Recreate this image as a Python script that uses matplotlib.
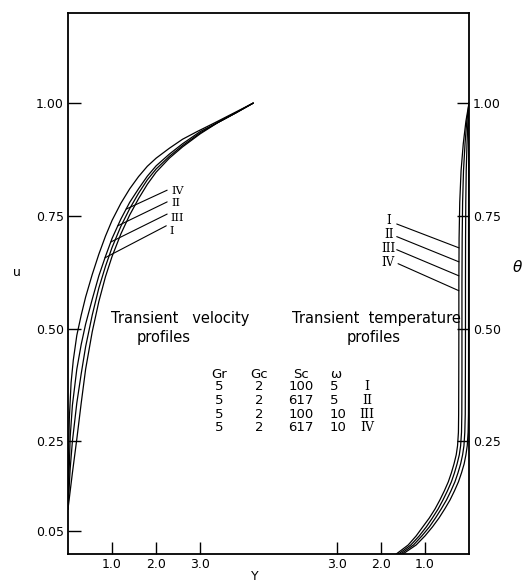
import numpy as np
import matplotlib.pyplot as plt

# transient velocity profiles (left part of chart)
velIV_Y = [0, 0.01, 0.03, 0.07, 0.12, 0.2, 0.3, 0.4, 0.55, 0.7, 0.85, 1.0, 1.2, 1.4, 1.6, 1.8, 2.0, 2.3, 2.6, 2.93, 3.3, 3.7, 4.2]
velIV_u = [0.10, 0.20, 0.30, 0.38, 0.43, 0.485, 0.53, 0.57, 0.62, 0.665, 0.705, 0.74, 0.778, 0.81, 0.837, 0.86, 0.878, 0.90, 0.92, 0.937, 0.955, 0.975, 1.0]
vel_Y = [0, 0.05, 0.1, 0.2, 0.3, 0.4, 0.55, 0.7, 0.85, 1.0, 1.2, 1.4, 1.6, 1.8, 2.0, 2.3, 2.6, 3.0, 3.4, 3.8, 4.2]
velII_u = [0.10, 0.26, 0.33, 0.41, 0.465, 0.51, 0.565, 0.617, 0.66, 0.70, 0.743, 0.78, 0.81, 0.838, 0.861, 0.887, 0.91, 0.937, 0.957, 0.978, 1.0]
velIII_u = [0.10, 0.19, 0.25, 0.335, 0.40, 0.46, 0.53, 0.59, 0.638, 0.68, 0.727, 0.766, 0.80, 0.83, 0.854, 0.882, 0.906, 0.934, 0.957, 0.978, 1.0]
velI_u = [0.10, 0.14, 0.18, 0.255, 0.335, 0.41, 0.493, 0.56, 0.615, 0.66, 0.71, 0.752, 0.788, 0.82, 0.847, 0.878, 0.903, 0.932, 0.957, 0.978, 1.0]

# transient temperature profiles: Y measured from the right edge
th_levels = [0, 0.02, 0.04, 0.06, 0.08, 0.10, 0.12, 0.14, 0.16, 0.18, 0.20, 0.22, 0.24, 0.27, 0.31, 0.40, 0.50, 0.60, 0.70, 0.78, 0.85, 0.91, 0.96, 1.0]
tmp_I = [1.65, 1.38, 1.20, 1.05, 0.90, 0.77, 0.66, 0.56, 0.47, 0.40, 0.34, 0.29, 0.26, 0.24, 0.235, 0.232, 0.23, 0.23, 0.225, 0.21, 0.18, 0.13, 0.07, 0.0]
tmp_II = [1.60, 1.32, 1.13, 0.97, 0.83, 0.70, 0.59, 0.49, 0.40, 0.33, 0.27, 0.22, 0.19, 0.17, 0.163, 0.16, 0.16, 0.16, 0.155, 0.145, 0.125, 0.09, 0.05, 0.0]
tmp_III = [1.55, 1.26, 1.07, 0.90, 0.76, 0.63, 0.51, 0.41, 0.32, 0.25, 0.19, 0.145, 0.115, 0.095, 0.085, 0.082, 0.08, 0.08, 0.078, 0.073, 0.063, 0.045, 0.025, 0.0]
tmp_IV = [1.50, 1.20, 1.00, 0.83, 0.68, 0.55, 0.43, 0.33, 0.24, 0.17, 0.11, 0.07, 0.04, 0.02, 0.012, 0.01, 0.01, 0.01, 0.01, 0.009, 0.008, 0.005, 0.002, 0.0]

case_names = ['I', 'II', 'III', 'IV']
Gr = [5, 5, 5, 5]
Gc = [2, 2, 2, 2]
Sc = [100, 617, 100, 617]
omega = [5, 5, 10, 10]

y_ticks = [0.05, 0.25, 0.50, 0.75, 1.00]
x_ticks = [1.0, 2.0, 3.0]
x_span = 9.1

plt.rcParams['font.family'] = 'DejaVu Sans'
fig = plt.figure(figsize=(5.25, 5.84), dpi=100)
pos = [68 / 525, 30 / 584, 401 / 525, 541 / 584]

ax = fig.add_axes(pos)
ax.plot(velIV_Y, velIV_u, color='black', lw=0.9)
for uu in [velII_u, velIII_u, velI_u]:
    ax.plot(vel_Y, uu, color='black', lw=0.9)
ax.set_xlim(0, x_span)
ax.set_ylim(0, 1.2)
ax.set_xticks(x_ticks)
ax.set_xticklabels(['%.1f' % t for t in x_ticks])
ax.set_yticks(y_ticks)
ax.set_yticklabels(['%.2f' % t for t in y_ticks])
ax.tick_params(direction='in', length=9, width=1, labelsize=9, pad=3)
for s in ax.spines.values():
    s.set_linewidth(1.3)

# velocity leader lines (they end on the second curve of the bundle)
vel_end_u = {'IV': 0.765, 'II': 0.728, 'III': 0.692, 'I': 0.657}
vel_start = {'IV': (2.25, 0.807), 'II': (2.25, 0.781), 'III': (2.25, 0.754), 'I': (2.23, 0.728)}
vel_label = {'IV': (2.48, 0.806), 'II': (2.45, 0.778), 'III': (2.48, 0.745), 'I': (2.36, 0.716)}
for name in case_names:
    ue = vel_end_u[name]
    xy = (np.interp(ue, velII_u, vel_Y), ue)
    ax.annotate('', xy=xy, xytext=vel_start[name],
                arrowprops=dict(arrowstyle='-', color='black', lw=0.8, shrinkA=0, shrinkB=0))
    ax.text(*vel_label[name], name, family='DejaVu Serif',
            fontsize=8, ha='center', va='center')

ax.text(2.55, 0.522, 'Transient   velocity', fontsize=10.5, ha='center', va='center')
ax.text(2.16, 0.48, 'profiles', fontsize=10.5, ha='center', va='center')

# temperature axes overlay, reversed x measured from the right edge
ax2 = fig.add_axes(pos, frameon=False)
ax2.patch.set_visible(False)
for yy in [tmp_I, tmp_II, tmp_III, tmp_IV]:
    ax2.plot(yy, th_levels, color='black', lw=0.9)
ax2.set_xlim(x_span, 0)
ax2.set_ylim(0, 1.2)
ax2.set_xticks(x_ticks)
ax2.set_xticklabels(['%.1f' % t for t in x_ticks])
ax2.set_yticks(y_ticks[1:])
ax2.set_yticklabels(['%.2f' % t for t in y_ticks[1:]])
ax2.yaxis.tick_right()
ax2.tick_params(direction='in', length=9, width=1, labelsize=9, pad=3)

# temperature leader lines end on the outer edge of the band
tmp_end = {'I': 0.679, 'II': 0.648, 'III': 0.617, 'IV': 0.584}
tmp_start = {'I': (1.64, 0.732), 'II': (1.64, 0.704), 'III': (1.64, 0.675), 'IV': (1.61, 0.644)}
tmp_label = {'I': (1.82, 0.739), 'II': (1.82, 0.708), 'III': (1.82, 0.677), 'IV': (1.84, 0.646)}
for name in case_names:
    te = tmp_end[name]
    xy = (np.interp(te, th_levels, tmp_I), te)
    ax2.annotate('', xy=xy, xytext=tmp_start[name],
                 arrowprops=dict(arrowstyle='-', color='black', lw=0.8, shrinkA=0, shrinkB=0))
    ax2.text(*tmp_label[name], name, family='DejaVu Serif',
             fontsize=8.5, ha='center', va='center')

ax2.text(2.11, 0.522, 'Transient  temperature', fontsize=10.5, ha='center', va='center')
ax2.text(2.16, 0.48, 'profiles', fontsize=10.5, ha='center', va='center')

# parameter table
heads = ['Gr', 'Gc', 'Sc', '\u03c9']
head_x = [219, 259, 301, 330]
for cx, h in zip(head_x, heads):
    ha = 'left' if h == '\u03c9' else 'center'
    fig.text(cx / 525, 1 - 374 / 584, h, fontsize=9.5, ha=ha, va='center')
for i, name in enumerate(case_names):
    yy = 1 - (387 + 13.6 * i) / 584
    fig.text(219 / 525, yy, str(Gr[i]), fontsize=9.5, ha='center', va='center')
    fig.text(259 / 525, yy, str(Gc[i]), fontsize=9.5, ha='center', va='center')
    fig.text(301 / 525, yy, str(Sc[i]), fontsize=9.5, ha='center', va='center')
    fig.text(330 / 525, yy, str(omega[i]), fontsize=9.5, ha='left', va='center')
    fig.text(367 / 525, yy, name, family='DejaVu Serif', fontsize=9, ha='center', va='center')

fig.text(17 / 525, 1 - 273 / 584, 'u', fontsize=9, ha='center', va='center')
fig.text(517 / 525, 1 - 267 / 584, '\u03b8', fontsize=11, style='italic', ha='center', va='center')
fig.text(255 / 525, 1 - 577 / 584, 'Y', fontsize=9, ha='center', va='center')

fig.savefig('out.png', dpi=100)
